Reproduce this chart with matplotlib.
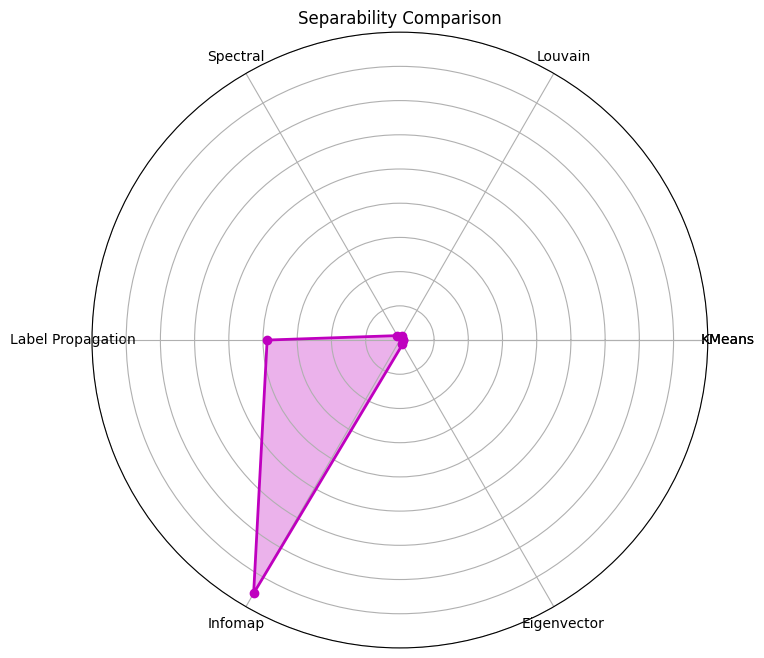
import matplotlib
matplotlib.use("Agg")
import matplotlib.pyplot as plt
import numpy as np

# Categories and scores
categories = ['KMeans', 'Louvain', 'Spectral', 'Label Propagation', 'Infomap', 'Eigenvector']
scores = [0.01, 0.012, 0.015, 0.388, 0.855, 0.015]
rticks = [0.1, 0.2, 0.3, 0.4, 0.5, 0.6, 0.7, 0.8, 0.9]

n = len(categories)
angles = np.linspace(0, 2 * np.pi, n, endpoint=False).tolist()
angles += angles[:1]
values = scores + scores[:1]

fig = plt.figure(figsize=(7.64, 6.58), dpi=100)
ax = fig.add_axes([0.1204, 0.0152, 0.806, 0.936], polar=True)

ax.fill(angles, values, color='m', alpha=0.3)
ax.plot(angles, values, color='m', linewidth=2, marker='o')

ax.set_xticks(angles)
ax.set_xticklabels(categories + categories[:1])
ax.set_ylim(0, 0.9)
ax.set_yticks(rticks)
ax.set_yticklabels([])
ax.set_title('Separability Comparison')

fig.savefig('out.png', dpi=100)
